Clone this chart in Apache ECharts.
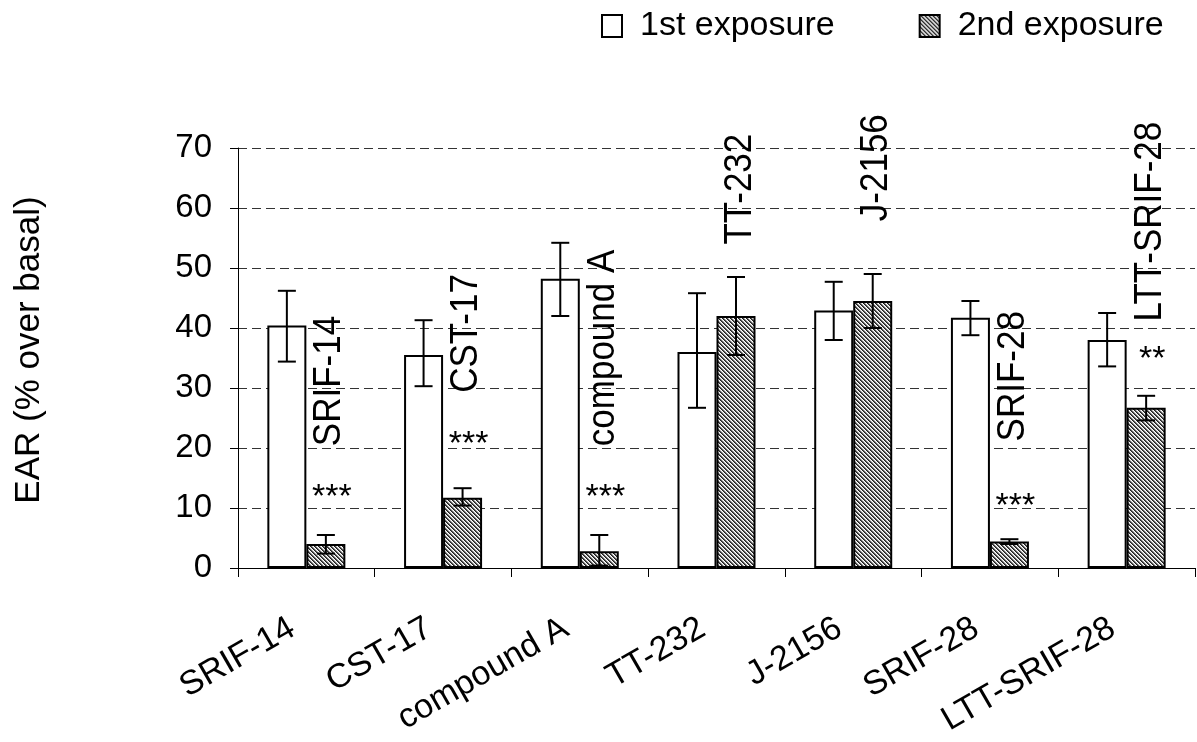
<!DOCTYPE html>
<html>
<head>
<meta charset="utf-8">
<script src="https://cdn.jsdelivr.net/npm/echarts@6/dist/echarts.min.js"></script>
<style>
html,body{margin:0;padding:0;background:#fff;}
#chart{width:1197px;height:742px;}
</style>
</head>
<body>
<div id="chart"></div>
<script>
// ---- data ----
const categories = ['SRIF-14', 'CST-17', 'compound A', 'TT-232', 'J-2156', 'SRIF-28', 'LTT-SRIF-28'];
const seriesNames = ['1st exposure', '2nd exposure'];
const firstValues = [40.4, 35.5, 48.2, 36.0, 42.9, 41.7, 38.0];
const firstErrLow = [34.4, 30.3, 42.0, 26.7, 38.0, 38.8, 33.6];
const firstErrHigh = [46.2, 41.3, 54.2, 45.8, 47.7, 44.5, 42.5];
const secondValues = [4.0, 11.7, 2.8, 42.0, 44.5, 4.4, 26.7];
const secondErrLow = [2.4, 10.4, 0.4, 35.5, 40.0, 4.0, 24.6];
const secondErrHigh = [5.5, 13.3, 5.5, 48.5, 49.0, 4.8, 28.7];
// in-plot annotations: compound name (start position in axis units) and significance marks
const annotationTexts = ['SRIF-14', 'CST-17', 'compound A', 'TT-232', 'J-2156', 'SRIF-28', 'LTT-SRIF-28'];
const annotationStartY = [20.3, 29.2, 20.3, 53.9, 57.8, 21.1, 41.1];
const sigMarks = ['***', '***', '***', '', '', '***', '**'];
const sigMarkY = [11.7, 20.5, 11.7, 0, 0, 10.2, 34.7];
const yMin = 0, yMax = 70, yStep = 10;

// ---- styles ----
const FONT = '"Liberation Sans", Arial, Helvetica, sans-serif';
const BAR_W = 39;

function hatchCanvas() {
  const c = document.createElement('canvas');
  c.width = 4; c.height = 4;
  const ctx = c.getContext('2d');
  const img = ctx.createImageData(4, 4);
  const shades = [35, 85, 200, 255];
  for (let y = 0; y < 4; y++) {
    for (let x = 0; x < 4; x++) {
      const k = ((x - y) % 4 + 4) % 4;
      const v = shades[k];
      const i = (y * 4 + x) * 4;
      img.data[i] = v; img.data[i + 1] = v; img.data[i + 2] = v; img.data[i + 3] = 255;
    }
  }
  ctx.putImageData(img, 0, 0);
  return c;
}
const hatch = { image: hatchCanvas(), repeat: 'repeat' };

const chart = echarts.init(document.getElementById('chart'), null, { renderer: 'canvas' });

function errData(low, high) {
  return low.map((l, i) => [i, l, high[i]]);
}

function errRender(side) {
  return function (params, api) {
    const i = api.value(0);
    const lo = api.coord([i, api.value(1)]);
    const hi = api.coord([i, api.value(2)]);
    const x = lo[0] + side * BAR_W / 2;
    const cap = 9;
    const st = { stroke: '#000', lineWidth: 2 };
    return {
      type: 'group',
      children: [
        { type: 'line', shape: { x1: x, y1: lo[1], x2: x, y2: hi[1] }, style: st },
        { type: 'line', shape: { x1: x - cap, y1: lo[1], x2: x + cap, y2: lo[1] }, style: st },
        { type: 'line', shape: { x1: x - cap, y1: hi[1], x2: x + cap, y2: hi[1] }, style: st }
      ]
    };
  };
}

const nameData = annotationTexts.map((t, i) => [i, annotationStartY[i], t]);
const sigData = sigMarks.map((t, i) => [i, sigMarkY[i], t]).filter(d => d[2] !== '');

const option = {
  animation: false,
  backgroundColor: '#fff',
  grid: { left: 238, right: 2, top: 148, bottom: 174, containLabel: false, outerBoundsMode: 'none' },
  legend: {
    data: seriesNames,
    left: 601,
    top: 9,
    padding: 0,
    icon: 'rect',
    itemWidth: 20,
    itemHeight: 22,
    itemGap: 84,
    textStyle: { fontFamily: FONT, fontSize: 34, color: '#000', padding: [0, 0, 0, 13] }
  },
  xAxis: {
    type: 'category',
    data: categories,
    axisLine: { lineStyle: { color: '#000', width: 1 } },
    axisTick: { show: true, length: 9, alignWithLabel: false, lineStyle: { color: '#000' } },
    axisLabel: { rotate: 30, fontFamily: FONT, fontSize: 34, color: '#000', margin: 50,
                 padding: [0, 16, 0, 0], interval: 0 },
    splitLine: { show: false }
  },
  yAxis: {
    type: 'value',
    min: yMin, max: yMax, interval: yStep,
    name: 'EAR (% over basal)',
    nameLocation: 'middle',
    nameGap: 191,
    nameTextStyle: { fontFamily: FONT, fontSize: 35, color: '#000', padding: [0, 0, 0, 16] },
    axisLine: { show: true, lineStyle: { color: '#000', width: 1 } },
    axisTick: { show: true, length: 8, lineStyle: { color: '#000' } },
    axisLabel: { fontFamily: FONT, fontSize: 33, color: '#000', margin: 26 },
    splitLine: { show: true, lineStyle: { color: '#333', type: [9, 5], width: 1 } }
  },
  series: [
    {
      name: seriesNames[0], type: 'bar', data: firstValues,
      barWidth: BAR_W, barGap: '0%',
      itemStyle: { color: '#fff', borderColor: '#000', borderWidth: 2 },
      z: 2
    },
    {
      name: seriesNames[1], type: 'bar', data: secondValues,
      barWidth: BAR_W, barGap: '0%',
      itemStyle: { color: hatch, borderColor: '#000', borderWidth: 2 },
      z: 2
    },
    {
      type: 'custom', name: 'err1', data: errData(firstErrLow, firstErrHigh),
      encode: { x: 0, y: [1, 2] }, renderItem: errRender(-1), z: 5, silent: true
    },
    {
      type: 'custom', name: 'err2', data: errData(secondErrLow, secondErrHigh),
      encode: { x: 0, y: [1, 2] }, renderItem: errRender(1), z: 5, silent: true
    },
    {
      type: 'custom', name: 'names', data: nameData,
      encode: { x: 0, y: 1 }, z: 6, silent: true,
      renderItem: function (params, api) {
        const p = api.coord([api.value(0), api.value(1)]);
        return {
          type: 'text', x: p[0] + BAR_W / 2 + 4, y: p[1], rotation: Math.PI / 2,
          scaleY: 1.1,
          style: { text: nameData[params.dataIndex][2], x: 0, y: 0, align: 'left', verticalAlign: 'middle',
                   font: '35px ' + FONT, fill: '#000' }
        };
      }
    },
    {
      type: 'custom', name: 'sig', data: sigData,
      encode: { x: 0, y: 1 }, z: 6, silent: true,
      renderItem: function (params, api) {
        const p = api.coord([api.value(0), api.value(1)]);
        return {
          type: 'text', x: p[0] + BAR_W / 2 + 6, y: p[1],
          style: { text: sigData[params.dataIndex][2], x: 0, y: 0, align: 'center', verticalAlign: 'middle',
                   font: '34px ' + FONT, fill: '#000' }
        };
      }
    }
  ]
};
chart.setOption(option);
</script>
</body>
</html>
